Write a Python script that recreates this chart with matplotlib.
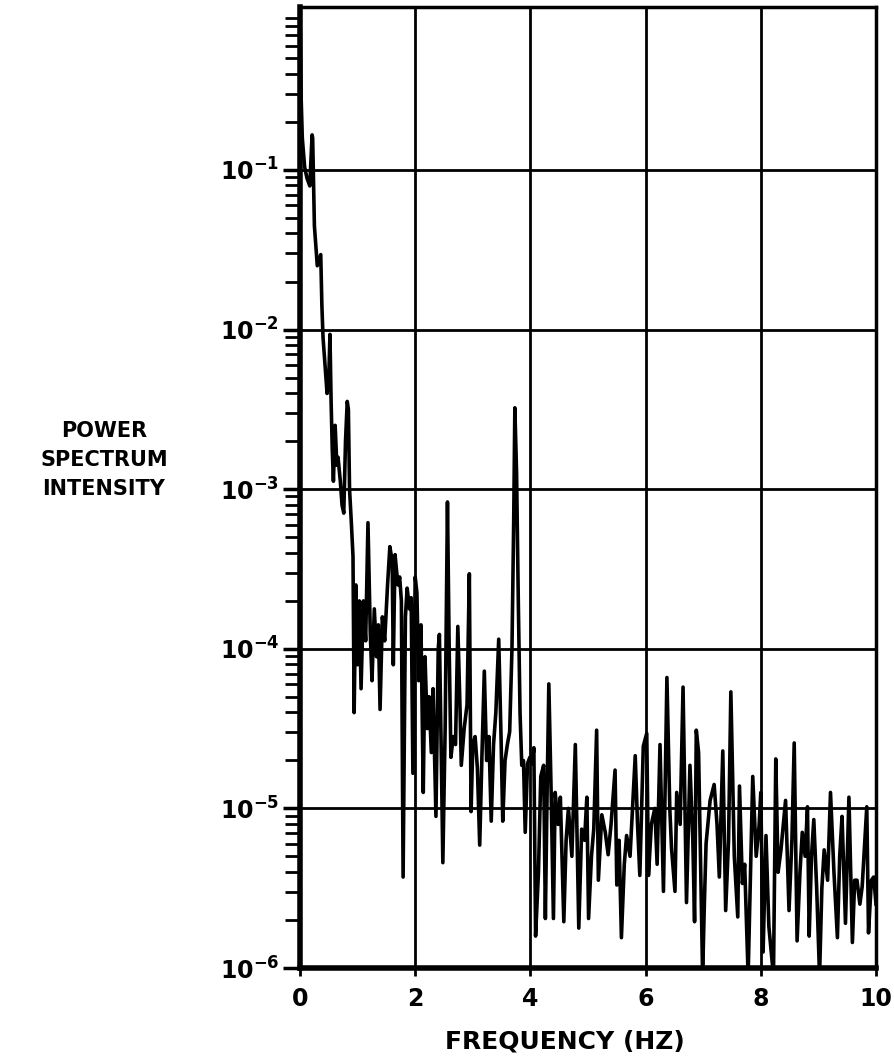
import numpy as np
import matplotlib.pyplot as plt
from matplotlib.ticker import LogLocator, NullFormatter

freq = [
    0.00, 0.01, 0.02, 0.04, 0.08, 0.12, 0.17, 0.21, 0.22, 0.25, 0.30, 0.36, 0.38, 0.40,
    0.44, 0.47, 0.50, 0.52, 0.54, 0.56, 0.58, 0.61, 0.64, 0.66, 0.70, 0.73, 0.76, 0.79,
    0.82, 0.84, 0.86, 0.89, 0.92, 0.94, 0.97, 1.00, 1.03, 1.06, 1.10, 1.14, 1.18, 1.22,
    1.25, 1.29, 1.33, 1.36, 1.39, 1.43, 1.47, 1.52, 1.56, 1.60, 1.62, 1.65, 1.70, 1.73,
    1.76, 1.79, 1.83, 1.86, 1.90, 1.93, 1.96, 2.00, 2.03, 2.06, 2.10, 2.14, 2.17, 2.21,
    2.24, 2.28, 2.31, 2.36, 2.40, 2.42, 2.45, 2.48, 2.52, 2.56, 2.59, 2.62, 2.66, 2.70,
    2.74, 2.78, 2.80, 2.85, 2.90, 2.94, 2.97, 3.00, 3.04, 3.08, 3.12, 3.16, 3.20, 3.24,
    3.28, 3.32, 3.36, 3.40, 3.45, 3.49, 3.52, 3.56, 3.60, 3.64, 3.68, 3.71, 3.73, 3.76,
    3.79, 3.82, 3.85, 3.88, 3.91, 3.95, 3.99, 4.03, 4.06, 4.09, 4.14, 4.18, 4.23, 4.26,
    4.29, 4.32, 4.36, 4.40, 4.43, 4.48, 4.52, 4.58, 4.62, 4.66, 4.72, 4.78, 4.84, 4.89,
    4.94, 4.98, 5.01, 5.06, 5.10, 5.15, 5.18, 5.24, 5.30, 5.35, 5.40, 5.47, 5.50, 5.54,
    5.58, 5.63, 5.67, 5.73, 5.82, 5.86, 5.90, 5.96, 6.02, 6.05, 6.10, 6.16, 6.20, 6.25,
    6.31, 6.37, 6.42, 6.45, 6.51, 6.54, 6.60, 6.65, 6.71, 6.77, 6.82, 6.85, 6.88, 6.92,
    6.99, 7.02, 7.05, 7.12, 7.19, 7.24, 7.28, 7.34, 7.39, 7.44, 7.48, 7.54, 7.60, 7.63,
    7.68, 7.72, 7.78, 7.86, 7.92, 7.97, 8.00, 8.04, 8.09, 8.14, 8.22, 8.26, 8.30, 8.35,
    8.43, 8.49, 8.54, 8.58, 8.63, 8.68, 8.72, 8.77, 8.81, 8.84, 8.88, 8.92, 8.97, 9.02,
    9.06, 9.10, 9.16, 9.21, 9.27, 9.33, 9.37, 9.41, 9.47, 9.53, 9.59, 9.63, 9.67, 9.72,
    9.76, 9.84, 9.87, 9.92, 9.96, 10.00,
]
log_power = [
    0.00, -0.30, -0.55, -0.80, -0.98, -1.05, -1.10, -0.78, -0.80, -1.35, -1.60, -1.53, -1.85, -2.05,
    -2.25, -2.40, -2.30, -2.03, -2.45, -2.75, -2.95, -2.60, -2.85, -2.80, -2.95, -3.10, -3.15, -2.70,
    -2.45, -2.50, -3.00, -3.20, -3.42, -4.40, -3.60, -4.10, -3.70, -4.25, -3.70, -3.95, -3.21, -3.90,
    -4.20, -3.75, -4.05, -3.85, -4.38, -3.80, -3.95, -3.60, -3.36, -3.45, -4.10, -3.41, -3.60, -3.55,
    -3.70, -5.43, -3.80, -3.62, -3.75, -3.68, -4.78, -3.55, -3.65, -4.20, -3.85, -4.90, -4.05, -4.50,
    -4.30, -4.65, -4.25, -5.05, -4.00, -3.91, -4.60, -5.34, -4.50, -3.08, -4.00, -4.68, -4.55, -4.60,
    -3.86, -4.40, -4.73, -4.50, -4.35, -3.53, -5.02, -4.60, -4.55, -4.75, -5.23, -4.65, -4.14, -4.70,
    -4.55, -5.08, -4.60, -4.40, -3.94, -4.55, -5.08, -4.70, -4.60, -4.52, -4.00, -3.20, -2.49, -2.90,
    -3.70, -4.40, -4.73, -4.70, -5.15, -4.72, -4.68, -4.72, -4.62, -5.80, -5.40, -4.80, -4.73, -5.69,
    -4.90, -4.22, -4.90, -5.69, -4.90, -5.10, -4.93, -5.71, -5.20, -5.00, -5.30, -4.60, -5.75, -5.13,
    -5.20, -4.93, -5.69, -5.30, -5.13, -4.51, -5.45, -5.04, -5.15, -5.29, -5.10, -4.76, -5.48, -5.20,
    -5.81, -5.35, -5.17, -5.30, -4.67, -5.10, -5.42, -4.61, -4.53, -5.42, -5.10, -5.00, -5.35, -4.60,
    -5.52, -4.18, -5.00, -5.25, -5.52, -4.90, -5.10, -4.24, -5.59, -4.73, -5.20, -5.71, -4.51, -4.65,
    -6.05, -5.60, -5.22, -4.95, -4.85, -5.10, -5.43, -4.64, -5.64, -5.20, -4.27, -5.30, -5.68, -4.86,
    -5.47, -5.35, -6.05, -4.80, -5.30, -5.11, -4.90, -5.90, -5.17, -5.74, -6.05, -4.69, -5.40, -5.26,
    -4.95, -5.64, -5.20, -4.59, -5.83, -5.40, -5.15, -5.30, -4.99, -5.80, -5.30, -5.07, -5.50, -6.05,
    -5.50, -5.26, -5.45, -4.90, -5.40, -5.81, -5.30, -5.05, -5.72, -4.93, -5.84, -5.45, -5.45, -5.60,
    -5.49, -4.99, -5.78, -5.45, -5.43, -5.60,
]

x_ticks = [0, 2, 4, 6, 8, 10]
y_ticks = [1e-6, 1e-5, 1e-4, 1e-3, 1e-2, 1e-1]
y_labels = ['$10^{-6}$', '$10^{-5}$', '$10^{-4}$', '$10^{-3}$', '$10^{-2}$', '$10^{-1}$']

plt.rcParams['font.family'] = 'DejaVu Sans'
plt.rcParams['font.weight'] = 'bold'
plt.rcParams['mathtext.default'] = 'bf'

power = 10.0 ** np.array(log_power)

fig = plt.figure(figsize=(8.94, 10.62), dpi=100)
ax = fig.add_axes([300 / 894, 1 - 968 / 1062, 576 / 894, 961 / 1062])

ax.plot(freq, power, color='black', lw=2.6, solid_joinstyle='round', zorder=3)

ax.set_yscale('log')
ax.set_xlim(0, 10)
ax.set_ylim(1e-6, 1.05)

ax.set_xticks(x_ticks)
ax.set_xticklabels([str(t) for t in x_ticks], fontsize=17)
ax.set_yticks(y_ticks)
ax.set_yticklabels(y_labels, fontsize=17)
ax.yaxis.set_minor_locator(LogLocator(base=10, subs=np.arange(2, 10)))
ax.yaxis.set_minor_formatter(NullFormatter())

ax.tick_params(axis='x', which='major', direction='out', length=6, width=2, pad=8)
ax.tick_params(axis='y', which='major', direction='out', length=12, width=2.5, pad=3)
ax.tick_params(axis='y', which='minor', direction='out', length=11, width=2)

ax.grid(True, which='major', color='black', lw=2.0)
for side in ['left', 'bottom']:
    ax.spines[side].set_linewidth(4)
for side in ['top', 'right']:
    ax.spines[side].set_linewidth(2.5)

fig.text(104 / 894, 1 - 460 / 1062, 'POWER\nSPECTRUM\nINTENSITY', ha='center', va='center',
         fontsize=15, linespacing=1.55, fontweight='bold')
fig.text(565 / 894, 1 - 1041 / 1062, 'FREQUENCY (HZ)', ha='center', va='center',
         fontsize=18, fontweight='bold')

fig.savefig('out.png', dpi=100)
